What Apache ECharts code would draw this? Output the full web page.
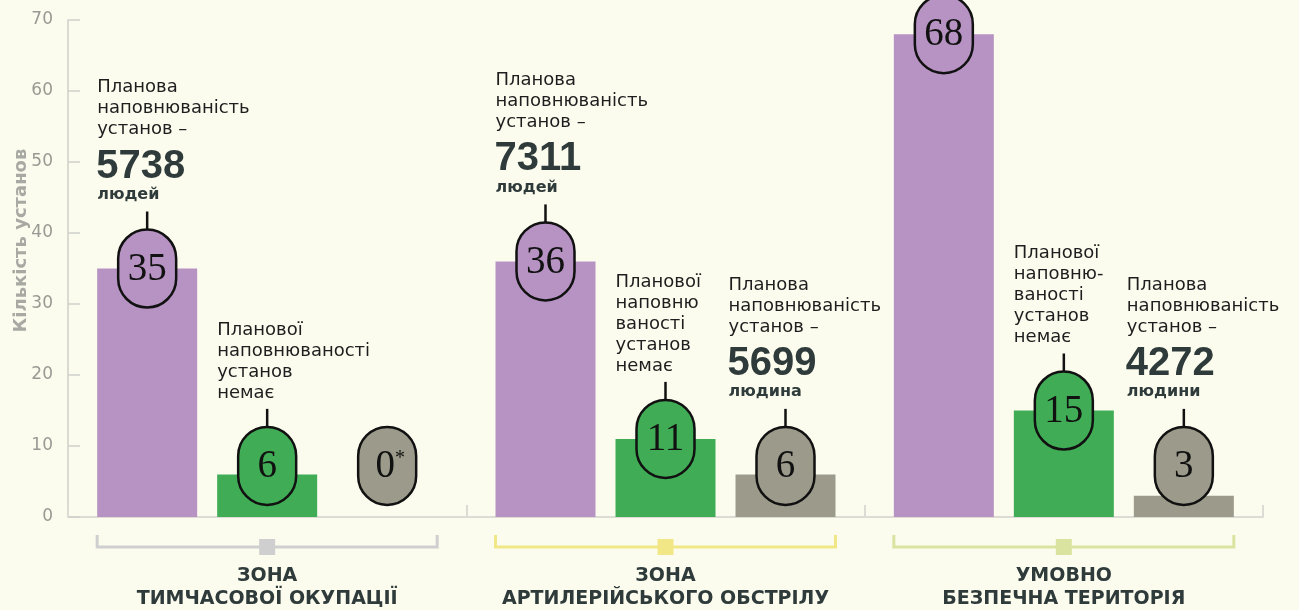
<!DOCTYPE html>
<html>
<head>
<meta charset="utf-8">
<script src="https://cdn.jsdelivr.net/npm/echarts@6/dist/echarts.min.js"></script>
<style>
  html, body { margin: 0; padding: 0; background: #fbfcee; }
  #chart { width: 1299px; height: 610px; }
</style>
</head>
<body>
<div id="chart"></div>
<script>
// дані
var categories = ['ЗОНА\nТИМЧАСОВОЇ ОКУПАЦІЇ', 'ЗОНА\nАРТИЛЕРІЙСЬКОГО ОБСТРІЛУ', 'УМОВНО\nБЕЗПЕЧНА ТЕРИТОРІЯ'];
var purpleValues = [35, 36, 68];
var greenValues = [6, 11, 15];
var grayValues = [0, 6, 3];
var grayMarks = ['*', '', ''];
var yMin = 0, yMax = 70, yStep = 10;

var purpleNotes = [
	{ lines: ['Планова', 'наповнюваність', 'установ –'], count: '5738', unit: 'людей' },
	{ lines: ['Планова', 'наповнюваність', 'установ –'], count: '7311', unit: 'людей' },
	null
];
var greenNotes = [
	{ lines: ['Планової', 'наповнюваності', 'установ', 'немає'] },
	{ lines: ['Планової', 'наповню', 'ваності', 'установ', 'немає'] },
	{ lines: ['Планової', 'наповню-', 'ваності', 'установ', 'немає'] }
];
var grayNotes = [
	null,
	{ lines: ['Планова', 'наповнюваність', 'установ –'], count: '5699', unit: 'людина' },
	{ lines: ['Планова', 'наповнюваність', 'установ –'], count: '4272', unit: 'людини' }
];

var colors = ['#b793c3', '#40ad56', '#9c9b8b'];
var bracketColors = ['#cfcfcf', '#f2e787', '#dbe3a0'];
var darkText = '#2f3b3b';

var chart = echarts.init(document.getElementById('chart'));

function barSeries(name, data, color) {
	return {
		name: name,
		type: 'bar',
		data: data,
		barWidth: 100,
		barGap: '20%',
		itemStyle: { color: color },
		silent: true
	};
}

var option = {
	backgroundColor: '#fbfcee',
	animation: false,
	grid: { left: 68, right: 36, top: 20, bottom: 93, containLabel: false, outerBoundsMode: 'none' },
	xAxis: {
		type: 'category',
		data: categories,
		axisLine: { lineStyle: { color: '#dcdcd4', width: 2 } },
		axisTick: { show: true, inside: true, length: 12, lineStyle: { color: '#dcdcd4', width: 2 } },
		axisLabel: {
			interval: 0,
			margin: 48,
			color: darkText,
			fontFamily: 'DejaVu Sans',
			fontWeight: 'bold',
			fontSize: 19,
			lineHeight: 23,
			letterSpacing: 0.6
		}
	},
	yAxis: {
		type: 'value',
		min: yMin,
		max: yMax,
		interval: yStep,
		name: 'Кількість установ',
		nameLocation: 'middle',
		nameGap: 38,
		nameMoveOverlap: false,
		nameTextStyle: {
			color: '#a9a9a4',
			fontFamily: 'DejaVu Sans',
			fontWeight: 'bold',
			fontSize: 18,
			letterSpacing: 1.2,
			padding: [0, 0, 0, 56]
		},
		axisLine: { show: true, lineStyle: { color: '#cfcfca', width: 1.5 } },
		axisTick: { show: true, inside: true, length: 12, lineStyle: { color: '#cfcfca', width: 1.5 } },
		axisLabel: { margin: 15, color: '#9a9a94', fontFamily: 'DejaVu Sans', fontSize: 17 },
		splitLine: { show: false }
	},
	series: [
		barSeries('purple', purpleValues, colors[0]),
		barSeries('green', greenValues, colors[1]),
		barSeries('gray', grayValues, colors[2])
	]
};
chart.setOption(option, true);

// позначки поверх стовпців
function itemRect(si, di) {
	var l = chart.getModel().getSeriesByIndex(si).getData().getItemLayout(di);
	var top = Math.min(l.y, l.y + l.height);
	return { left: l.x, width: l.width, top: top };
}

var minBubbleY = chart.convertToPixel({ yAxisIndex: 0 }, 7.2);
var graphics = [];
var allValues = [purpleValues, greenValues, grayValues];
var allNotes = [purpleNotes, greenNotes, grayNotes];

function textEl(x, y, text, size, weight, fill, family) {
	return {
		type: 'text', x: x, y: y, z: 100,
		style: {
			text: text, fill: fill, fontSize: size, fontWeight: weight,
			fontFamily: family || 'DejaVu Sans', align: 'left', verticalAlign: 'middle'
		}
	};
}

for (var s = 0; s < 3; s++) {
	for (var c = 0; c < categories.length; c++) {
		var r = itemRect(s, c);
		var cx = r.left + r.width / 2;
		var cy = Math.min(r.top, minBubbleY);
		var bTop = cy - 39;
		var mark = s === 2 ? grayMarks[c] : '';
		graphics.push({
			type: 'rect', z: 90,
			shape: { x: cx - 29, y: bTop, width: 58, height: 78, r: 29 },
			style: { fill: colors[s], stroke: '#111', lineWidth: 2.5 }
		});
		graphics.push({
			type: 'text', x: cx + (mark ? 3 : 0), y: cy + 1, z: 100,
			style: {
				text: mark ? '{n|' + allValues[s][c] + '}{s|' + mark + '}' : String(allValues[s][c]),
				fill: '#111', fontSize: 39, fontFamily: 'Liberation Serif',
				align: 'center', verticalAlign: 'middle',
				rich: {
					n: { fontSize: 39, fontFamily: 'Liberation Serif', fill: '#111' },
					s: { fontSize: 20, fontFamily: 'Liberation Serif', fill: '#111', padding: [0, 0, 16, 0] }
				}
			}
		});
		var note = allNotes[s][c];
		if (!note) continue;
		graphics.push({
			type: 'line', z: 95,
			shape: { x1: cx, y1: bTop - 18, x2: cx, y2: bTop },
			style: { stroke: '#111', lineWidth: 2.5 }
		});
		var tx = r.left + (s === 2 ? -7 : 0);
		if (note.count) {
			graphics.push(textEl(tx, bTop - 35, note.unit, 16, 'bold', darkText));
			graphics.push(textEl(tx - 1, bTop - 63, note.count, 40, 'bold', darkText, 'Liberation Sans'));
			for (var i = 0; i < note.lines.length; i++) {
				graphics.push(textEl(tx, bTop - 100 - 21 * (note.lines.length - 1 - i), note.lines[i], 18, 'normal', '#1e1e1e'));
			}
		} else {
			for (var j = 0; j < note.lines.length; j++) {
				graphics.push(textEl(tx, bTop - 34 - 21 * (note.lines.length - 1 - j), note.lines[j], 18, 'normal', '#1e1e1e'));
			}
		}
	}
}

// дужки під групами
for (var g = 0; g < categories.length; g++) {
	var a = itemRect(0, g), b = itemRect(2, g);
	var x1 = a.left, x2 = b.left + b.width, mid = (x1 + x2) / 2;
	graphics.push({
		type: 'polyline', z: 50,
		shape: { points: [[x1, 535], [x1, 547], [x2, 547], [x2, 535]] },
		style: { stroke: bracketColors[g], lineWidth: 3, fill: null }
	});
	graphics.push({
		type: 'rect', z: 51,
		shape: { x: mid - 8, y: 539, width: 16, height: 16 },
		style: { fill: bracketColors[g] }
	});
}

chart.setOption({ graphic: graphics });
</script>
</body>
</html>
